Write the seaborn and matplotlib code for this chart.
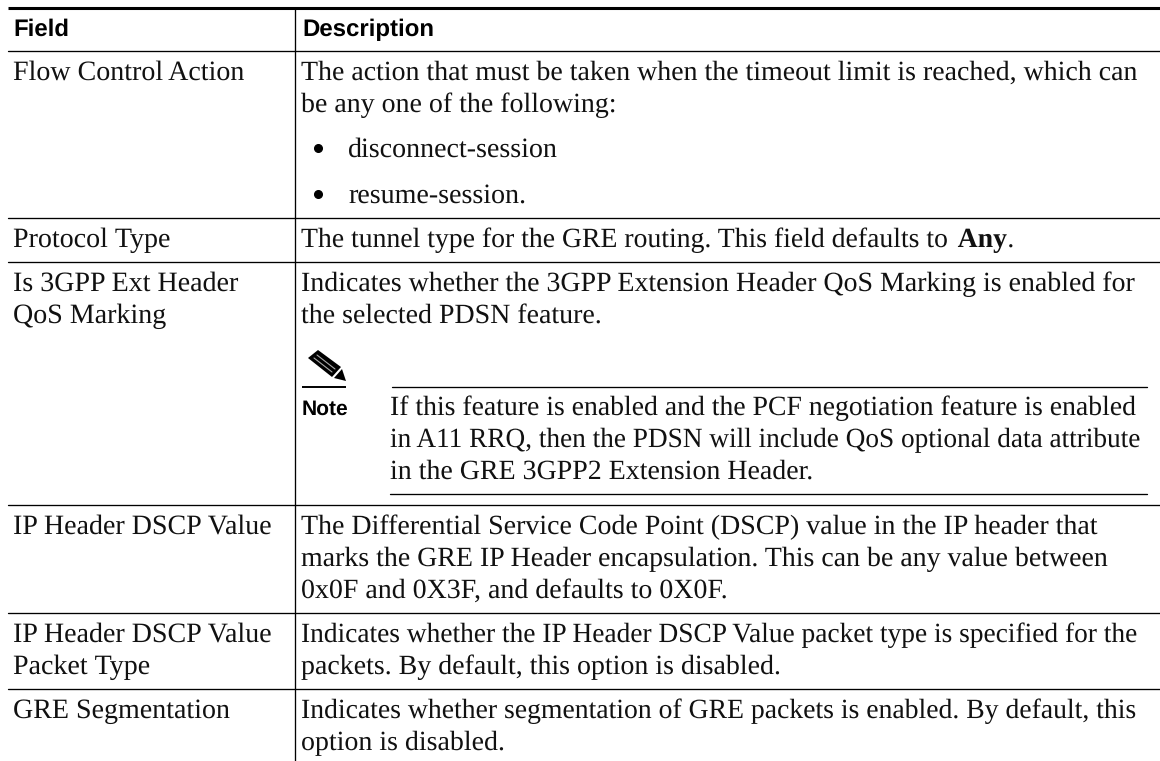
import matplotlib.patheffects as pe
import matplotlib.pyplot as plt
import pandas as pd
import seaborn as sns
from matplotlib.transforms import Affine2D

sns.set_theme(style='white')
plt.rcParams['font.family'] = ['Liberation Serif', 'DejaVu Serif']
plt.rcParams['text.hinting'] = 'no_hinting'
plt.rcParams['text.hinting_factor'] = 1

# Texto da tabela
headers = ['Field', 'Description']
fields = ['Flow Control Action', 'Protocol Type', 'Is 3GPP Ext Header', 'QoS Marking',
          'IP Header DSCP Value', 'IP Header DSCP Value', 'Packet Type', 'GRE Segmentation']
field_y = [80, 247, 291, 323, 534, 642, 674, 718]

desc = [
    'The action that must be taken when the timeout limit is reached, which can',
    'be any one of the following:',
    'Indicates whether the 3GPP Extension Header QoS Marking is enabled for',
    'the selected PDSN feature.',
    'The Differential Service Code Point (DSCP) value in the IP header that',
    'marks the GRE IP Header encapsulation. This can be any value between',
    '0x0F and 0X3F, and defaults to 0X0F.',
    'Indicates whether the IP Header DSCP Value packet type is specified for the',
    'packets. By default, this option is disabled.',
    'Indicates whether segmentation of GRE packets is enabled. By default, this',
    'option is disabled.',
]
desc_y = [80, 112, 291, 323, 534, 566, 598, 642, 674, 718, 750]
# largura relativa de cada linha (o original é justificado)
desc_fit = [1.004, 1.005, 1.004, 1.005, 1.0056, 1.004, 1.005, 0.987, 1.005, 0.997, 1.005]

bullets = ['disconnect-session', 'resume-session.']
bullet_y = [157, 203]

note_lines = [
    'If this feature is enabled and the PCF negotiation feature is enabled',
    'in A11 RRQ, then the PDSN will include QoS optional data attribute',
    'in the GRE 3GPP2 Extension Header.',
]
note_y = [415, 447, 479]
note_fit = [0.998, 0.982, 1.005]

row_y = [51, 218, 262, 505, 613, 689]
pencil_body = [(308, 358), (318, 350), (341, 367), (332, 377)]
pencil_tip = [(334, 378), (342, 369), (346, 381)]
pencil_stripes = [[(314, 358), (332, 372)], [(317, 355), (335, 369)]]


class Ajuste(pe.AbstractPathEffect):
    # escala horizontal do texto em torno da posição x0
    def __init__(self, x0, sx):
        super().__init__()
        self.x0 = x0
        self.sx = sx

    def draw_path(self, renderer, gc, tpath, affine, rgbFace=None):
        t = Affine2D().translate(-self.x0, 0).scale(self.sx, 1).translate(self.x0, 0)
        renderer.draw_path(gc, tpath, affine + t, rgbFace)


fig = plt.figure(figsize=(11.6, 7.61), dpi=100)
ax = fig.add_axes([0, 0, 1, 1])

# Linhas da tabela
rules = [(i, 8, y, 1160, y) for i, y in enumerate(row_y)]
rules += [(10, 295.3, 9, 295.3, 761), (11, 392, 387, 1147, 387), (12, 390, 494, 1147, 494)]
rows = []
for i, x0, y0, x1, y1 in rules:
    rows += [{'id': i, 'x': x0, 'y': y0}, {'id': i, 'x': x1, 'y': y1}]
sns.lineplot(data=pd.DataFrame(rows), x='x', y='y', units='id', estimator=None, sort=False,
             color='black', linewidth=0.95, ax=ax)
ax.plot([8, 1160], [7.5, 7.5], color='black', lw=2.2, solid_capstyle='butt')
ax.plot([302, 346], [387, 387], color='black', lw=1.4, solid_capstyle='butt')
ax.set_xlim(0, 1160)
ax.set_ylim(761, 0)
ax.axis('off')

body = dict(fontsize=20, color='#111111', va='baseline', ha='left')
head = dict(family='Liberation Sans', fontweight='bold', color='black', va='baseline', ha='left')

ax.text(13.5, 36, headers[0], fontsize=17, **head)
ax.text(302, 36, headers[1], fontsize=17, **head)
ax.text(302, 415, 'Note', fontsize=15, **head)

for s, y in zip(fields, field_y):
    ax.text(13, y, s, **body)
for s, y, f in zip(desc, desc_y, desc_fit):
    ax.text(301, y, s, path_effects=[Ajuste(301, f)], **body)
for s, y in zip(bullets, bullet_y):
    ax.plot([318], [y - 9], 'o', color='black', ms=5.5)
    ax.text(348, y, s, **body)
for s, y, f in zip(note_lines, note_y, note_fit):
    ax.text(390, y, s, path_effects=[Ajuste(390, f)], **body)

# Linha com "Any" em negrito
ajuste_any = [Ajuste(301, 0.998)]
t = ax.text(301, 247, 'The tunnel type for the GRE routing. This field defaults to ',
            path_effects=ajuste_any, **body)
fig.canvas.draw()
bb = t.get_window_extent()
x_any = bb.x1 - 3
t2 = ax.text(x_any, 247, 'Any', fontweight='bold', path_effects=ajuste_any, **body)
ax.text(x_any + t2.get_window_extent().width, 247, '.', path_effects=ajuste_any, **body)

# Ícone do lápis
ax.fill(*zip(*pencil_body), color='black', lw=0)
ax.fill(*zip(*pencil_tip), color='black', lw=0)
for st in pencil_stripes:
    ax.plot(*zip(*st), color='#aaaaaa', lw=0.8)

fig.savefig('out.png', dpi=100)
